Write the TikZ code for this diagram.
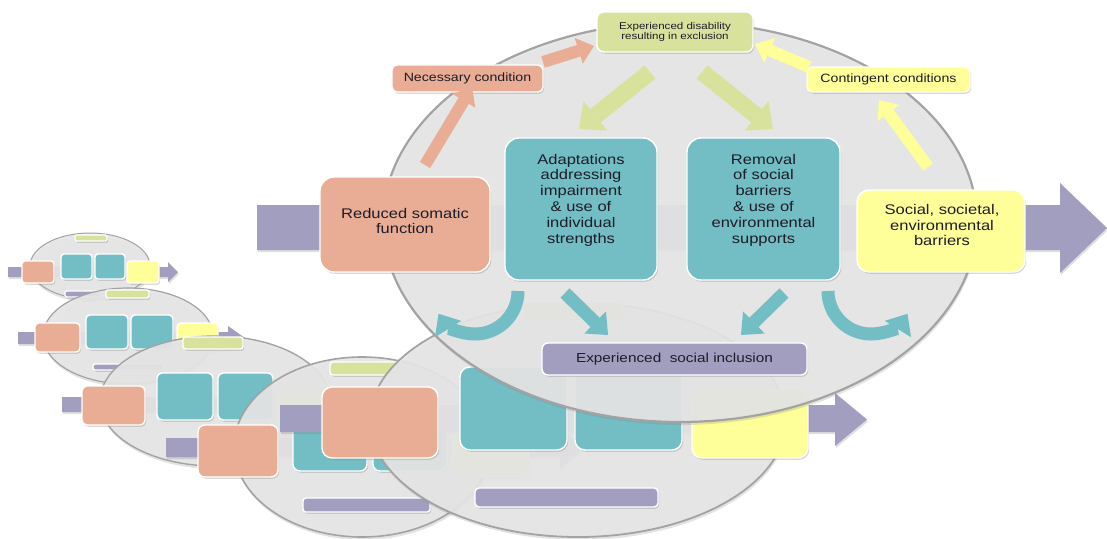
\documentclass[tikz,border=0pt]{standalone}
\usepackage{fontspec}
\setmainfont{Liberation Sans}[FakeStretch=1.18]
\usetikzlibrary{shadows,arrows.meta}
\definecolor{salm}{RGB}{232,173,148}
\definecolor{tealc}{RGB}{114,190,196}
\definecolor{yel}{RGB}{255,255,153}
\definecolor{grn}{RGB}{216,226,156}
\definecolor{purp}{RGB}{161,158,192}
\definecolor{ellf}{RGB}{229,229,229}
\definecolor{elld}{RGB}{163,163,163}
\definecolor{txt}{RGB}{30,28,40}
\tikzset{
  bx/.style={draw=white, line width=1.4pt, inner sep=0pt, rounded corners=#1,
    drop shadow={shadow xshift=1.2pt, shadow yshift=-1.8pt, opacity=0.3}},
  bx/.default=4pt,
  salbox/.style={bx=#1, fill=salm}, salbox/.default=4pt,
  tealbox/.style={bx=#1, fill=tealc}, tealbox/.default=4pt,
  yelbox/.style={bx=#1, fill=yel}, yelbox/.default=4pt,
  grnbox/.style={bx=#1, fill=grn}, grnbox/.default=4pt,
  purbox/.style={bx=#1, fill=purp}, purbox/.default=4pt,
  ell/.style={fill=ellf, fill opacity=0.92, draw=elld, draw opacity=1, line width=#1,
    drop shadow={shadow xshift=1pt, shadow yshift=-3pt, opacity=0.22}},
  ell/.default=1.5pt,
  parrow/.style={fill=purp, drop shadow={shadow xshift=1pt, shadow yshift=-2pt, opacity=0.25}},
  bigtxt/.style={font=\fontsize{14}{15.8}\selectfont, align=center, text=txt},
  smalltxt/.style={font=\fontsize{12}{14}\selectfont, text=txt},
  saltip/.style={draw=salm, line width=12pt, -{Triangle[width=27pt,length=16pt,line width=0pt]}},
  yeltip/.style={draw=yel, line width=12pt, -{Triangle[width=27pt,length=16pt,line width=0pt]}},
  grntip/.style={draw=grn, line width=17pt, -{Triangle[width=38pt,length=21pt,line width=0pt]}},
  tealtip/.style={draw=tealc, line width=13pt, -{Triangle[width=31pt,length=18pt,line width=0pt]}},
}
\begin{document}
\begin{tikzpicture}[x=1pt,y=-1pt]
\useasboundingbox (0,0) rectangle (1107,538);
% ---------- layer 1 ----------
\fill[parrow] (8,267) -- (168,267) -- (168,262) -- (178,272) -- (168,282) -- (168,277) -- (8,277) -- cycle;
\draw[ell=1pt] (90,266) ellipse [x radius=60, y radius=33];
\node[salbox=3pt, minimum width=32pt, minimum height=22pt] (l1s) at (38,272) {};
\node[tealbox=3pt, minimum width=31pt, minimum height=25pt] (l1t1) at (76.5,266.5) {};
\node[tealbox=3pt, minimum width=30pt, minimum height=25pt] (l1t2) at (110,266.5) {};
\node[yelbox=3pt, minimum width=32pt, minimum height=22pt] (l1y) at (143,272) {};
\node[grnbox=1.5pt, minimum width=32pt, minimum height=6pt] (l1g) at (91,238) {};
\node[purbox=1.5pt, minimum width=35pt, minimum height=6pt] (l1p) at (82.5,294) {};
% ---------- layer 2 ----------
\fill[parrow] (18,332) -- (228,332) -- (228,326) -- (245,338) -- (228,350) -- (228,344) -- (18,344) -- cycle;
\draw[ell=1.2pt] (128,336) ellipse [x radius=85, y radius=48];
\node[salbox=4pt, minimum width=45pt, minimum height=29pt] (l2s) at (57.5,337.5) {};
\node[tealbox=4pt, minimum width=42pt, minimum height=34pt] (l2t1) at (107,332) {};
\node[tealbox=4pt, minimum width=42pt, minimum height=34pt] (l2t2) at (152,332) {};
\node[yelbox=4pt, minimum width=41pt, minimum height=29pt] (l2y) at (197.5,337.5) {};
\node[grnbox=2pt, minimum width=43pt, minimum height=8pt] (l2g) at (127.5,294) {};
\node[purbox=2pt, minimum width=70pt, minimum height=6pt] (l2p) at (128,367) {};
% ---------- layer 3 ----------
\fill[parrow] (62,397) -- (345,397) -- (345,389) -- (363,404.5) -- (345,420) -- (345,412) -- (62,412) -- cycle;
\draw[ell=1.4pt] (215,401) ellipse [x radius=115, y radius=65];
\node[salbox=5pt, minimum width=63pt, minimum height=39pt] (l3s) at (113.5,405.5) {};
\node[tealbox=5pt, minimum width=56pt, minimum height=47pt] (l3t1) at (185,396.5) {};
\node[tealbox=5pt, minimum width=55pt, minimum height=47pt] (l3t2) at (245.5,396.5) {};
\node[yelbox=5pt, minimum width=57pt, minimum height=39pt] (l3y) at (306,405.5) {};
\node[grnbox=2.5pt, minimum width=60pt, minimum height=12pt] (l3g) at (213,343) {};
\node[purbox=2.5pt, minimum width=80pt, minimum height=9pt] (l3p) at (226,447) {};
% ---------- layer 4 ----------
\fill[parrow] (166,438) -- (560,438) -- (560,427) -- (584,447.5) -- (560,468) -- (560,457) -- (166,457) -- cycle;
\draw[ell=1.6pt] (362,447) ellipse [x radius=128, y radius=90];
\node[salbox=7pt, minimum width=80pt, minimum height=52pt] (l4s) at (238,451) {};
\node[tealbox=7pt, minimum width=74pt, minimum height=62pt] (l4t1) at (330,440) {};
\node[tealbox=7pt, minimum width=74pt, minimum height=62pt] (l4t2) at (410,440) {};
\node[yelbox=7pt, minimum width=76pt, minimum height=52pt] (l4y) at (491,451) {};
\node[grnbox=3pt, minimum width=73pt, minimum height=13pt] (l4g) at (366.5,368.5) {};
\node[purbox=3pt, minimum width=127pt, minimum height=14pt] (l4p) at (366.5,505) {};
% ---------- layer 5 ----------
\fill[parrow] (280,405) -- (835,405) -- (835,393) -- (867,419.5) -- (835,446) -- (835,432) -- (280,432) -- cycle;
\draw[ell=1.8pt] (578,420) ellipse [x radius=208, y radius=117];
\node[salbox=10pt, minimum width=116pt, minimum height=71pt] (l5s) at (380,422.5) {};
\node[tealbox=10pt, minimum width=107pt, minimum height=83pt] (l5t1) at (513.5,408.5) {};
\node[tealbox=10pt, minimum width=107pt, minimum height=83pt] (l5t2) at (628.5,408.5) {};
\node[yelbox=10pt, minimum width=116pt, minimum height=68pt] (l5y) at (750,424) {};
\node[grnbox=4pt, minimum width=100pt, minimum height=15pt] (l5g) at (573,310) {};
\node[purbox=4pt, minimum width=183pt, minimum height=19pt] (l5p) at (566.5,497.5) {};
% ---------- main layer ----------
\fill[parrow] (257,205) -- (1060,205) -- (1060,183) -- (1107,228) -- (1060,273) -- (1060,250) -- (257,250) -- cycle;
\draw[ell=2.2pt] (680,222) ellipse [x radius=297, y radius=200];
\node[salbox=14pt, minimum width=170pt, minimum height=95pt] (red) at (405,224.5) {};
\node[bigtxt] (red-t) at (405,221) {Reduced somatic\\function};
\node[tealbox=14pt, minimum width=152pt, minimum height=142pt] (adapt) at (581,209) {};
\node[bigtxt] (adapt-t) at (581,200) {Adaptations\\addressing\\impairment\\\& use of\\individual\\strengths};
\node[tealbox=14pt, minimum width=153pt, minimum height=142pt] (remov) at (763.5,209) {};
\node[bigtxt] (remov-t) at (763.5,200) {Removal\\of social\\barriers\\\& use of\\environmental\\supports};
\node[yelbox=12pt, minimum width=168pt, minimum height=82pt] (soc) at (941,231) {};
\node[bigtxt] (soc-t) at (942,225) {Social, societal,\\environmental\\barriers};
\node[grnbox=7pt, minimum width=156pt, minimum height=40pt, font=\fontsize{9.8}{10.5}\selectfont, align=center, text=txt] (dis) at (675,32) {Experienced disability\\resulting in exclusion};
\node[salbox=5pt, minimum width=151pt, minimum height=27pt, smalltxt] (nec) at (467.5,78.5) {Necessary condition};
\node[yelbox=5pt, minimum width=163pt, minimum height=25pt, smalltxt] (cont) at (888.5,79.5) {Contingent conditions};
\node[purbox=6pt, minimum width=265pt, minimum height=32pt, font=\fontsize{13}{15}\selectfont, text=txt] (incl) at (674.5,359) {Experienced~ social inclusion};
% ---------- block arrows ----------
\coordinate (a1s) at (425,165); \coordinate (a1e) at (472,87);
\coordinate (a2s) at (543,62);  \coordinate (a2e) at (594,46);
\coordinate (a3s) at (809,67);  \coordinate (a3e) at (755,44);
\coordinate (a4s) at (928,167); \coordinate (a4e) at (879,100);
\coordinate (g1s) at (650,72);  \coordinate (g1e) at (579,129);
\coordinate (g2s) at (702,72);  \coordinate (g2e) at (773,129);
\coordinate (t1s) at (565,293); \coordinate (t1e) at (608,335);
\coordinate (t2s) at (784,293); \coordinate (t2e) at (741,335);
\draw[saltip] (a1s) -- (a1e);
\draw[saltip] (a2s) -- (a2e);
\draw[yeltip] (a3s) -- (a3e);
\draw[yeltip] (a4s) -- (a4e);
\draw[grntip] (g1s) -- (g1e);
\draw[grntip] (g2s) -- (g2e);
\draw[tealtip] (t1s) -- (t1e);
\draw[tealtip] (t2s) -- (t2e);
\coordinate (c1s) at (518,291);
\coordinate (c2s) at (828,291);
\draw[tealtip] (c1s) arc[start angle=0, end angle=148, radius=43];
\draw[tealtip] (c2s) arc[start angle=180, end angle=32, radius=43];
\end{tikzpicture}
\end{document}
